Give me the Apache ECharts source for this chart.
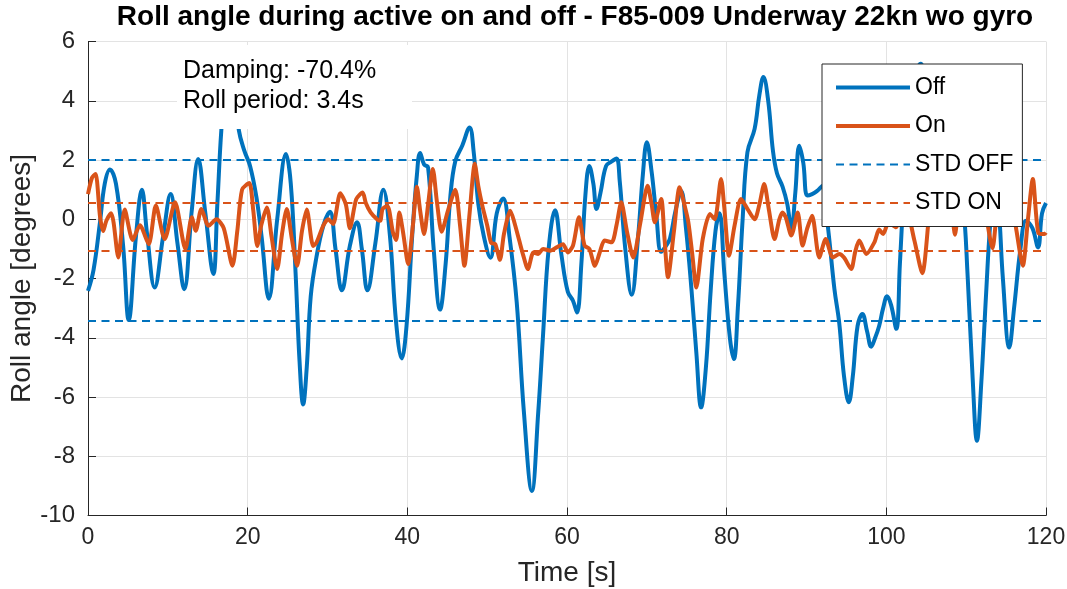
<!DOCTYPE html>
<html>
<head>
<meta charset="utf-8">
<script src="https://cdn.jsdelivr.net/npm/echarts@6/dist/echarts.min.js"></script>
<style>
  html, body { margin: 0; padding: 0; background: #fff; }
  #chart { width: 1067px; height: 589px; }
</style>
</head>
<body>
<div id="chart"></div>
<script>
// Roll angle, active stabiliser off vs on
var offTime = [0, 0.7, 1.5, 2.1, 2.75, 3.5, 4.4, 5.1, 6.0, 6.75, 7.4, 8.35, 9.4, 10.35, 11.2, 12.05, 13.0, 13.8, 14.7, 15.7,
  16.2, 16.7, 17.3, 17.9, 18.4, 18.9, 19.6, 20.3, 21.1, 21.75, 22.65, 23.7, 24.8, 25.4, 26.0, 26.5, 26.95, 27.4, 27.9, 28.6,
  29.5, 30.3, 31.0, 31.8, 32.8, 33.7, 34.3, 35.0, 36.0, 37.0, 37.8, 38.6, 39.3, 39.9, 40.6, 41.2, 41.6, 42.1, 42.6, 43.3,
  44.1, 44.8, 45.4, 46.0, 46.9, 47.8, 48.3, 48.9, 49.6, 50.4, 51.2, 52.0, 52.8, 53.7, 54.6, 55.6, 56.4, 57.0, 57.7, 58.5,
  59.3, 60.1, 60.75, 61.25, 61.8, 62.3, 62.8, 63.3, 63.7, 64.2, 64.9, 65.6, 66.2, 66.6, 67.3, 68.1, 68.9, 69.5, 70.0, 70.6,
  71.2, 71.8, 72.4, 72.9, 73.6, 74.3, 74.9, 75.6, 76.2, 76.8, 77.4, 78.0, 78.6, 79.1, 79.7, 80.4, 80.9, 81.4, 82.0, 82.6,
  83.5, 84.1, 84.6, 85.2, 85.8, 86.3, 87.0, 87.6, 88.1, 88.6, 89.1, 89.6, 90.1, 90.7, 91.3, 92.0, 92.7, 93.5, 94.1, 94.7,
  95.3, 95.8, 96.4, 97.0, 97.6, 98.1, 98.6, 99.1, 99.6, 100.1, 100.6, 101.25, 101.7, 102.2, 102.8, 103.5, 104.3, 105.0, 106.0, 107.0,
  108.0, 109.0, 109.6, 110.2, 110.8, 111.35, 111.9, 112.5, 113.0, 113.5, 114.0, 114.6, 115.4, 116.0, 116.8, 117.5, 118.3, 119.0, 119.5, 120];
var offRoll = [-2.42, -1.7, -0.1, 1.2, 1.68, 1.2, -0.9, -3.4, -0.6, 1.0, -0.5, -2.3, -0.6, 0.85, -0.8, -2.36, 0.3, 2.03, 0.2, -1.85,
  0.5, 3.0, 4.8, 5.2, 4.4, 3.0, 2.3, 1.8, 0.74, -0.6, -2.68, 0.0, 2.2, 1.2, -1.8, -4.8, -6.25, -5.0, -2.6, -1.3,
  -0.2, 0.25, -1.0, -2.4, -0.9, -0.1, -1.0, -2.4, -0.8, 1.0, -0.5, -3.5, -4.7, -3.6, -0.6, 1.5, 2.24, 1.85, 1.75, -1.0,
  -3.05, -1.5, 0.8, 1.95, 2.5, 3.1, 2.3, 0.5, -0.6, -1.3, 0.2, 0.7, -0.6, -2.8, -6.5, -9.17, -6.5, -3.9, -1.0, 0.3,
  -1.2, -2.45, -2.75, -3.15, -1.5, 0.8, 1.8, 1.2, 0.35, 0.9, 1.8, 1.95, 2.05, 1.3, -1.0, -2.55, -0.6, 1.5, 2.6, 1.6,
  0.1, -1.1, -0.9, -0.65, 0.3, 0.95, -0.3, -2.4, -4.5, -6.35, -5.0, -2.4, -0.4, 0.2, -1.8, -4.0, -4.72, -3.0, 0.0, 2.26,
  3.05, 4.2, 4.8, 4.0, 2.3, 1.55, 1.1, 0.5, -0.35, 0.9, 2.48, 1.9, 0.8, 0.85, 0.95, 1.13, -0.3, -2.36, -3.5, -5.3,
  -6.18, -5.3, -3.6, -3.2, -3.8, -4.3, -4.0, -3.6, -3.0, -2.6, -2.9, -3.7, -1.5, 1.0, 3.2, 4.7, 5.25, 4.4, 3.3, 2.6,
  1.9, 1.2, 0.6, -2.0, -5.3, -7.48, -5.5, -2.5, -0.2, 1.1, 0.6, -2.0, -4.33, -3.0, -1.0, -0.05, -0.3, -0.95, 0.2, 0.55];

var onTime = [0, 0.5, 0.95, 1.5, 1.9, 2.3, 2.9, 3.2, 3.8, 4.6, 5.6, 6.5, 7.6, 8.5, 9.6, 10.9, 12.2, 13.0, 13.5, 14.2,
  15.1, 16.1, 17.0, 18.1, 18.7, 19.3, 20.2, 20.7, 21.2, 21.7, 22.4, 23.0, 23.7, 24.3, 24.9, 25.5, 26.2, 26.8, 27.4, 28.2,
  28.6, 29.5, 30.1, 30.7, 31.6, 32.3, 32.8, 33.6, 34.4, 34.8, 35.4, 36.2, 36.6, 36.9, 37.5, 38.2, 38.6, 39.0, 39.5, 40.1,
  40.7, 41.2, 41.6, 42.1, 42.6, 43.2, 43.7, 44.3, 45.1, 46.0, 46.6, 47.15, 47.8, 48.45, 48.9, 49.4, 50.0, 50.5, 51.0, 51.6,
  52.1, 52.9, 53.4, 54.0, 54.5, 55.1, 55.8, 56.4, 57.0, 57.9, 58.7, 59.5, 60.1, 60.75, 61.5, 62.2, 62.8, 63.5, 64.1, 64.7,
  65.6, 66.2, 66.8, 67.5, 68.3, 69.2, 70.1, 70.6, 71.0, 71.8, 72.2, 72.65, 73.4, 74.1, 74.7, 75.2, 75.7, 76.2, 77.0, 77.9,
  78.5, 79.3, 79.7, 80.3, 81.0, 81.8, 82.6, 83.5, 84.1, 84.7, 85.3, 86.0, 86.6, 87.0, 87.4, 88.1, 88.9, 89.5, 90.1, 90.7,
  91.6, 92.4, 93.3, 94.1, 94.7, 95.6, 96.1, 96.6, 97.5, 98.5, 99.1, 99.6, 100.3, 101.2, 101.8, 102.4, 103.5, 104.5, 105.6, 106.2,
  106.8, 107.4, 107.9, 108.6, 109.3, 109.9, 110.5, 111.3, 111.8, 112.4, 113.3, 114.05, 114.65, 115.65, 116.25, 117.1, 117.75, 118.35, 119.05, 119.8, 120];
var onRoll = [0.85, 1.4, 1.53, 0.1, -0.4, -0.05, 0.2, -0.1, -1.29, 0.33, -0.7, -0.2, -0.84, 0.46, -0.67, 0.57, -1.0, 0.07, -0.39, 0.35,
  -0.22, 0.0, -0.3, -1.57, -0.4, 1.0, 1.22, 0.3, -0.9, -0.2, 0.4, -0.6, -1.68, -0.5, 0.35, -0.6, -1.57, -0.4, 0.33, -0.9,
  -0.8, -0.2, 0.0, -0.16, 0.88, 0.5, -0.3, 0.68, 0.9, 0.55, 0.23, 0.0, -0.05, 0.35, 0.45, -0.45, -0.7, 0.23, -0.5, -1.51,
  -0.2, 1.1, 0.3, -0.5, 0.5, 1.7, 0.6, -0.42, 0.3, 1.0, -0.2, -1.57, 0.2, 1.87, 1.1, 0.45, -0.2, -0.8, -0.83, -1.37,
  -0.5, 0.29, -0.1, -0.7, -1.2, -1.68, -1.12, -1.17, -1.0, -1.06, -0.95, -0.84, -1.12, -0.89, 0.07, -0.89, -1.0, -1.57, -1.12, -0.72,
  -0.78, -0.2, 0.57, -0.4, -1.29, -0.1, 1.13, 0.5, -0.1, 0.68, -0.6, -1.96, -0.4, 1.08, 0.5, -0.1, -1.2, -2.3, -0.67, 0.18,
  0.0, 1.36, 0.4, -1.23, -0.2, 0.68, 0.35, 0.0, 0.5, 1.19, 0.3, -0.67, 0.0, 0.23, 0.07, -0.55, 0.23, -0.89, -0.3, 0.12,
  -1.29, -0.67, -1.29, -1.17, -1.29, -1.68, -1.1, -0.72, -1.17, -0.78, -0.35, -0.5, -0.1, -0.27, 0.23, 0.4, -0.7, -1.82, 0.75, 1.05,
  0.35, 0.8, 0.95, -0.52, 0.88, 0.8, 1.1, 0.95, 1.1, 0.3, -0.98, 0.58, -0.08, 0.68, -0.3, -1.57, 0.03, 1.36, -0.47, -0.5, -0.45];

var stdOff = [2.02, -3.43];
var stdOn = [0.55, -1.07];
var noteLines = ['Damping: -70.4%', 'Roll period: 3.4s'];

var blue = '#0072BD';
var orange = '#D95319';
var ink = '#262626';
var font = '"Liberation Sans", Arial, Helvetica, sans-serif';

function pairs(xs, ys) {
  return xs.map(function(x, i) { return [x, ys[i]]; });
}
function levels(vals) {
  return vals.map(function(v) { return { yAxis: v }; });
}

var chart = echarts.init(document.getElementById('chart'), null, { renderer: 'canvas' });

chart.setOption({
  animation: false,
  backgroundColor: '#fff',
  textStyle: { fontFamily: font },
  title: {
    text: 'Roll angle during active on and off - F85-009 Underway 22kn wo gyro',
    left: 575, top: 3, padding: 0,
    textAlign: 'center',
    textStyle: { fontFamily: font, fontSize: 28, fontWeight: 'bold', color: '#000' }
  },
  grid: { left: 88, right: 21, top: 41.5, bottom: 73.5, outerBoundsMode: 'none', containLabel: false },
  xAxis: {
    type: 'value', min: 0, max: 120, interval: 20,
    name: 'Time [s]', nameLocation: 'middle', nameGap: 44,
    nameTextStyle: { fontFamily: font, fontSize: 28, color: ink },
    axisLine: { show: true, onZero: false, lineStyle: { color: ink, width: 1 } },
    axisTick: { show: true, inside: true, length: 8, lineStyle: { color: ink } },
    axisLabel: { fontFamily: font, fontSize: 23, color: ink, margin: 11 },
    splitLine: { show: true, lineStyle: { color: '#e3e3e3', width: 1 } }
  },
  yAxis: {
    type: 'value', min: -10, max: 6, interval: 2,
    name: 'Roll angle [degrees]', nameLocation: 'middle', nameGap: 52,
    nameMoveOverlap: false,
    nameTextStyle: { fontFamily: font, fontSize: 28, color: ink },
    axisLine: { show: true, onZero: false, lineStyle: { color: ink, width: 1 } },
    axisTick: { show: true, inside: true, length: 8, lineStyle: { color: ink } },
    axisLabel: { fontFamily: font, fontSize: 24, color: ink, margin: 13 },
    splitLine: { show: true, lineStyle: { color: '#e3e3e3', width: 1 } }
  },
  legend: {
    orient: 'vertical',
    left: 822, top: 64, z: 100,
    padding: [12, 9, 12, 12],
    itemWidth: 74, itemHeight: 14, itemGap: 15.5,
    backgroundColor: '#fff',
    borderColor: ink, borderWidth: 1, borderRadius: 0,
    itemStyle: { opacity: 0 },
    textStyle: { fontFamily: font, fontSize: 23, color: '#000' },
    data: [
      { name: 'Off', lineStyle: { width: 4 } },
      { name: 'On', lineStyle: { width: 4 } },
      { name: 'STD OFF', lineStyle: { width: 2 } },
      { name: 'STD ON', lineStyle: { width: 2 } }
    ]
  },
  series: [
    {
      name: 'Off', type: 'line', symbol: 'none', smooth: 0.4,
      data: pairs(offTime, offRoll),
      lineStyle: { color: blue, width: 4 },
      itemStyle: { color: blue }
    },
    {
      name: 'On', type: 'line', symbol: 'none', smooth: 0.25,
      data: pairs(onTime, onRoll),
      lineStyle: { color: orange, width: 4 },
      itemStyle: { color: orange }
    },
    {
      name: 'STD OFF', type: 'line', symbol: 'none', data: [],
      lineStyle: { color: blue, width: 2, type: [8, 5.5] },
      itemStyle: { color: blue },
      markLine: {
        silent: true, symbol: 'none', label: { show: false },
        lineStyle: { color: blue, width: 2, type: [8, 5.5] },
        data: levels(stdOff)
      }
    },
    {
      name: 'STD ON', type: 'line', symbol: 'none', data: [],
      lineStyle: { color: orange, width: 2, type: [8, 5.5] },
      itemStyle: { color: orange },
      markLine: {
        silent: true, symbol: 'none', label: { show: false },
        lineStyle: { color: orange, width: 2, type: [8, 5.5] },
        data: levels(stdOn)
      }
    }
  ],
  graphic: [
    { type: 'rect', left: 177, top: 45, z: 100, shape: { width: 235, height: 84 }, style: { fill: '#fff' } },
    { type: 'text', left: 183, top: 59, z: 101, style: { text: noteLines[0], font: '25px ' + font, fill: '#000' } },
    { type: 'text', left: 183, top: 89, z: 101, style: { text: noteLines[1], font: '25px ' + font, fill: '#000' } }
  ]
});
</script>
</body>
</html>
